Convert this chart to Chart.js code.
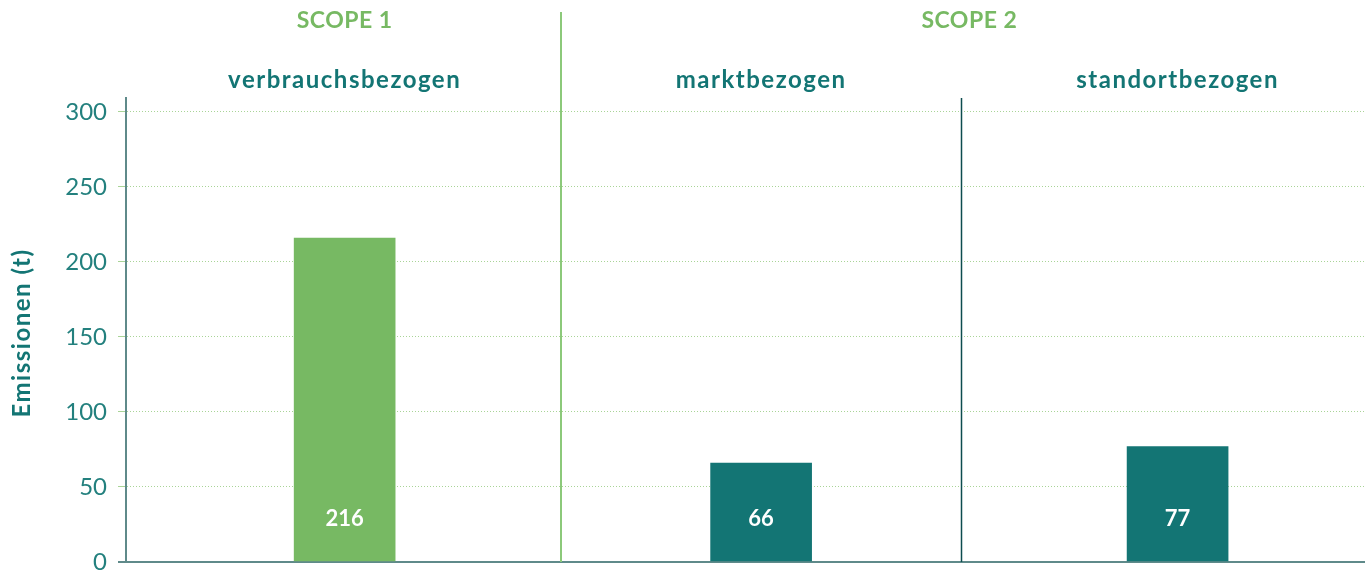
<!DOCTYPE html>
<html>
<head>
<meta charset="utf-8">
<script src="https://cdn.jsdelivr.net/npm/chart.js@4/dist/chart.umd.min.js"></script>
<style>
  html, body { margin: 0; padding: 0; background: #fff; overflow: hidden; }
  canvas { display: block; }
</style>
</head>
<body>
<canvas id="chart" width="1365" height="570"></canvas>
<script>
// data
var categories = ["verbrauchsbezogen", "marktbezogen", "standortbezogen"];
var emissions = [216, 66, 77];
var scopes = ["SCOPE 1", "SCOPE 2"];
var scopeOf = [0, 1, 1];
var yTicks = [0, 50, 100, 150, 200, 250, 300];
var yTitle = "Emissionen (t)";

var GREEN = "#77b963";
var TEAL = "#137574";
var AXIS = "#5f8a8a";
var FONT = "Lato, 'Open Sans', sans-serif";

// header texts, dividers, axis title and bar labels
var overlay = {
    id: "overlay",
    afterDatasetsDraw: function(chart) {
        var ctx = chart.ctx;
        var meta = chart.getDatasetMeta(0);
        ctx.save();
        ctx.fillStyle = "#ffffff";
        ctx.font = "bold 22px " + FONT;
        ctx.textAlign = "center";
        ctx.textBaseline = "middle";
        meta.data.forEach(function(bar, i) {
            ctx.fillText(String(emissions[i]), bar.x, bar.base - 42);
        });
        ctx.restore();
    },
    afterDraw: function(chart) {
        var ctx = chart.ctx;
        var x = chart.scales.x;
        var area = chart.chartArea;
        var meta = chart.getDatasetMeta(0);
        ctx.save();

        // divider between scope 1 and scope 2
        var d1 = Math.round(x.getPixelForValue(0.52));
        ctx.strokeStyle = "#8cc97a";
        ctx.lineWidth = 2;
        ctx.beginPath();
        ctx.moveTo(d1, 12);
        ctx.lineTo(d1, area.bottom);
        ctx.stroke();

        // divider inside scope 2
        var d2 = Math.round(x.getPixelForValue(1.48)) + 0.5;
        ctx.strokeStyle = "#0d4d4f";
        ctx.lineWidth = 1.5;
        ctx.beginPath();
        ctx.moveTo(d2, area.top);
        ctx.lineTo(d2, area.bottom);
        ctx.stroke();

        ctx.textAlign = "center";
        ctx.textBaseline = "middle";

        // scope headers, centred over their categories
        ctx.fillStyle = GREEN;
        ctx.font = "bold 23px " + FONT;
        ctx.letterSpacing = "0.5px";
        scopes.forEach(function(s, k) {
            var xs = [];
            scopeOf.forEach(function(sc, i) { if (sc === k) xs.push(meta.data[i].x); });
            var cx = (Math.min.apply(null, xs) + Math.max.apply(null, xs)) / 2;
            ctx.fillText(s, cx, 21);
        });

        // category labels
        ctx.fillStyle = TEAL;
        ctx.font = "bold 24px " + FONT;
        ctx.letterSpacing = "1.5px";
        categories.forEach(function(c, i) {
            ctx.fillText(c, meta.data[i].x, 80);
        });

        // y axis title
        ctx.translate(22, (area.top + area.bottom) / 2 + 3);
        ctx.rotate(-Math.PI / 2);
        ctx.font = "bold 24px " + FONT;
        ctx.letterSpacing = "1.5px";
        ctx.fillText(yTitle, 0, 0);

        ctx.restore();
    }
};

var ctx = document.getElementById("chart");
var chart = new Chart(ctx, {
    type: "bar",
    data: {
        datasets: [{
            data: emissions.map(function(v, i) { return { x: i, y: v }; }),
            backgroundColor: [GREEN, TEAL, TEAL],
            barThickness: 101,
            borderWidth: 0
        }]
    },
    options: {
        responsive: false,
        animation: false,
        layout: { autoPadding: false, padding: { top: 98, bottom: 8, left: 0, right: 0 } },
        plugins: { legend: { display: false }, tooltip: { enabled: false } },
        scales: {
            x: {
                type: "linear",
                display: false,
                offset: false,
                min: -0.525,
                max: 2.45
            },
            y: {
                min: 0,
                max: 309.3,
                afterBuildTicks: function(scale) {
                    scale.ticks = yTicks.map(function(v) { return { value: v }; });
                },
                ticks: {
                    color: "#23807e",
                    font: { family: FONT, size: 24 },
                    padding: 11
                },
                grid: {
                    color: function(c) { return c.tick && c.tick.value === 0 ? AXIS : "#a9d497"; },
                    lineWidth: function(c) { return c.tick && c.tick.value === 0 ? 2 : 1; },
                    tickLength: 8
                },
                border: {
                    display: true,
                    color: AXIS,
                    width: 2,
                    dash: function(c) { return c.tick && c.tick.value === 0 ? [] : [1, 2]; }
                },
                afterFit: function(scale) {
                    scale.width = 126;
                    scale.paddingTop = 0;
                    scale.paddingBottom = 0;
                }
            }
        }
    },
    plugins: [overlay]
});
</script>
</body>
</html>
